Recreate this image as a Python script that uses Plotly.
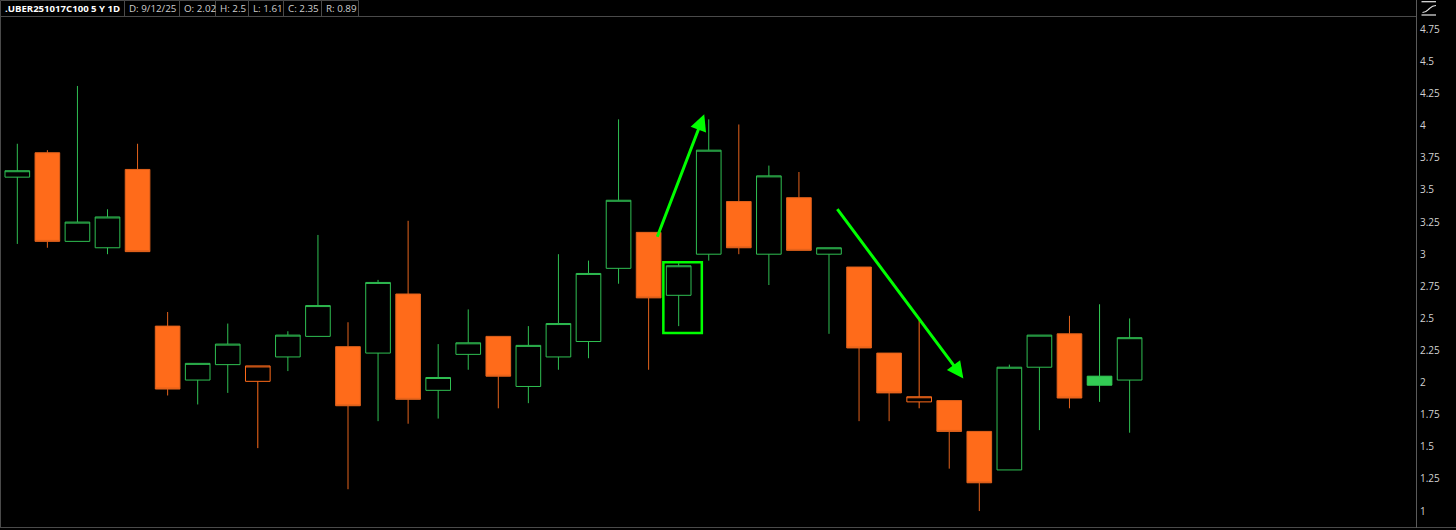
import plotly.graph_objects as go

# ---- data ----
opens = [3.60, 3.79, 3.10, 3.05, 3.66, 2.44, 2.02, 2.14, 2.01, 2.20,
         2.36, 2.28, 2.23, 2.69, 1.94, 2.22, 2.36, 1.97, 2.20, 2.32,
         2.89, 3.17, 2.68, 3.00, 3.41, 3.00, 3.44, 3.00, 2.90, 2.23,
         1.85, 1.86, 1.62, 1.32, 2.12, 2.38, 2.05, 2.02]
highs = [3.86, 3.81, 4.31, 3.35, 3.86, 2.55, 2.15, 2.46, 2.13, 2.40,
         3.15, 2.47, 2.80, 3.26, 2.30, 2.57, 2.36, 2.44, 3.00, 2.95,
         4.05, 3.17, 2.93, 4.05, 4.01, 3.69, 3.64, 3.05, 2.90, 2.23,
         2.49, 1.86, 1.62, 2.14, 2.37, 2.52, 2.61, 2.50]
lows = [3.08, 3.05, 3.10, 3.00, 3.02, 1.90, 1.83, 1.92, 1.49, 2.09,
        2.36, 1.17, 1.70, 1.68, 1.72, 2.10, 1.80, 1.84, 2.10, 2.19,
        2.77, 2.10, 2.44, 2.95, 3.00, 2.76, 3.03, 2.38, 1.70, 1.70,
        1.80, 1.33, 1.00, 1.32, 1.63, 1.80, 1.85, 1.61]
closes = [3.65, 3.10, 3.25, 3.29, 3.02, 1.95, 2.15, 2.30, 2.13, 2.37,
          2.60, 1.82, 2.78, 1.87, 2.04, 2.31, 2.05, 2.29, 2.46, 2.85,
          3.42, 2.66, 2.91, 3.81, 3.05, 3.61, 3.03, 3.05, 2.27, 1.92,
          1.89, 1.62, 1.22, 2.12, 2.37, 1.88, 1.98, 2.35]

symbol = ".UBER251017C100 5 Y 1D"
last_date = "9/12/25"
tick_vals = [1, 1.25, 1.5, 1.75, 2, 2.25, 2.5, 2.75, 3, 3.25, 3.5, 3.75, 4, 4.25, 4.5, 4.75]
tick_text = ["1", "1.25", "1.5", "1.75", "2", "2.25", "2.5", "2.75", "3", "3.25",
             "3.5", "3.75", "4", "4.25", "4.5", "4.75"]

# annotations (data coords): arrows start -> tip, highlight box
up_arrow = dict(x0=21.27, y0=3.124, x1=22.85, y1=4.09)
down_arrow = dict(x0=27.24, y0=3.362, x1=31.47, y1=2.033)
box_x = [21.49, 22.77]
box_y = [2.386, 2.937]

GREEN = "#2fbf52"
GREEN_FILL = "#33cc55"
ORANGE = "#ff6b1a"
ORANGE_LINE = "#e2621c"
BRIGHT = "#00ff00"

idx = list(range(len(opens)))
green_i, orange_i = [], []
for i in idx:
    if i == 0 or closes[i] >= closes[i - 1]:
        green_i.append(i)
    else:
        orange_i.append(i)

def sub(arr, ids):
    return [arr[i] for i in ids]

fig = go.Figure()
fig.add_trace(go.Candlestick(
    x=green_i, open=sub(opens, green_i), high=sub(highs, green_i),
    low=sub(lows, green_i), close=sub(closes, green_i),
    increasing=dict(line=dict(color=GREEN, width=1), fillcolor="#000000"),
    decreasing=dict(line=dict(color=GREEN_FILL, width=1), fillcolor=GREEN_FILL),
    whiskerwidth=0, showlegend=False, hoverinfo="skip"))
fig.add_trace(go.Candlestick(
    x=orange_i, open=sub(opens, orange_i), high=sub(highs, orange_i),
    low=sub(lows, orange_i), close=sub(closes, orange_i),
    increasing=dict(line=dict(color=ORANGE, width=1), fillcolor="#000000"),
    decreasing=dict(line=dict(color=ORANGE_LINE, width=1), fillcolor=ORANGE),
    whiskerwidth=0, showlegend=False, hoverinfo="skip"))

# ---- layout geometry helpers (pixel -> paper) ----
W_PLOT = 1417.0
TOP = 17.0
BOTTOM = 528.0
H_PLOT = BOTTOM - TOP

def px(x):
    return x / W_PLOT

def py(y):
    return (BOTTOM - y) / H_PLOT

BORDER = "#4a4a4a"
shapes = []
annotations = []

# arrows
for a in (up_arrow, down_arrow):
    annotations.append(dict(
        x=a["x1"], y=a["y1"], ax=a["x0"], ay=a["y0"],
        xref="x", yref="y", axref="x", ayref="y",
        showarrow=True, arrowhead=2, arrowsize=1.1, arrowwidth=3,
        arrowcolor=BRIGHT, text=""))

# highlight rectangle
shapes.append(dict(type="rect", xref="x", yref="y",
                   x0=box_x[0], x1=box_x[1], y0=box_y[0], y1=box_y[1],
                   line=dict(color=BRIGHT, width=2.5)))

# outer borders
shapes.append(dict(type="line", xref="paper", yref="paper",
                   x0=px(0.5), x1=px(0.5), y0=py(BOTTOM), y1=py(TOP),
                   line=dict(color=BORDER, width=1)))
shapes.append(dict(type="line", xref="paper", yref="paper",
                   x0=px(0), x1=px(1456), y0=py(BOTTOM - 0.5), y1=py(BOTTOM - 0.5),
                   line=dict(color=BORDER, width=1)))
shapes.append(dict(type="line", xref="paper", yref="paper",
                   x0=px(0), x1=px(W_PLOT), y0=py(TOP - 0.5), y1=py(TOP - 0.5),
                   line=dict(color=BORDER, width=1)))
shapes.append(dict(type="line", xref="paper", yref="paper",
                   x0=px(W_PLOT - 0.5), x1=px(W_PLOT - 0.5), y0=py(BOTTOM), y1=py(0),
                   line=dict(color="#5a5a5a", width=1)))

# header cells
header_texts = [
    symbol,
    f"D: {last_date}",
    f"O: {opens[-1]:g}",
    f"H: {highs[-1]:g}",
    f"L: {lows[-1]:g}",
    f"C: {closes[-1]:g}",
    f"R: {round(highs[-1] - lows[-1], 2):g}",
]
cell_edges = [0, 124, 179, 215, 248, 283, 321, 358]
for k, t in enumerate(header_texts):
    x0, x1 = cell_edges[k], cell_edges[k + 1]
    shapes.append(dict(type="rect", xref="paper", yref="paper",
                       x0=px(x0 + 0.5), x1=px(x1 + 0.5), y0=py(16.5), y1=py(0.5),
                       line=dict(color=BORDER, width=1), fillcolor="rgba(0,0,0,0)"))
    annotations.append(dict(
        x=px(x0 + 2.5), y=py(8.5), xref="paper", yref="paper",
        xanchor="left", yanchor="middle", showarrow=False,
        text=(f"<b>{t}</b>" if k == 0 else t),
        font=dict(family="Open Sans, sans-serif", size=9.6 if k == 0 else 9.8,
                  color="#ffffff" if k == 0 else "#cfcfcf")))

# top-right icon
ICON = "#e6e6e6"
shapes.append(dict(type="line", xref="paper", yref="paper",
                   x0=px(1421.5), x1=px(1436), y0=py(1.7), y1=py(1.7),
                   line=dict(color=ICON, width=1.2)))
shapes.append(dict(type="line", xref="paper", yref="paper",
                   x0=px(1421.5), x1=px(1436), y0=py(15), y1=py(15),
                   line=dict(color=ICON, width=1.2)))
shapes.append(dict(type="path", xref="paper", yref="paper",
                   path=(f"M {px(1422.5)},{py(12.5)} C {px(1426)},{py(12.5)} "
                         f"{px(1427)},{py(11)} {px(1429)},{py(9)} "
                         f"S {px(1432)},{py(5.5)} {px(1436)},{py(5.5)}"),
                   line=dict(color=ICON, width=1.2)))

fig.update_layout(
    width=1456, height=530,
    margin=dict(l=0, r=1456 - int(W_PLOT), t=int(TOP), b=530 - int(BOTTOM), pad=0),
    paper_bgcolor="#000000", plot_bgcolor="#000000",
    boxgap=0.18, boxgroupgap=0,
    showlegend=False,
    shapes=shapes, annotations=annotations,
    xaxis=dict(range=[-0.576, 46.56], visible=False, showgrid=False,
               zeroline=False, rangeslider=dict(visible=False), fixedrange=True),
    yaxis=dict(range=[0.868, 4.847], side="right", showgrid=False, zeroline=False,
               showline=False, tickvals=tick_vals, ticktext=tick_text,
               ticks="", ticklabelstandoff=2,
               tickfont=dict(family="Open Sans, sans-serif", size=10, color="#d2d2d2"),
               fixedrange=True),
)

fig.write_html(
    "out.html",
    config={"displayModeBar": False},
    post_script="document.body.style.margin='0';document.body.style.background='#000';"
                "document.body.style.overflow='hidden';",
)
